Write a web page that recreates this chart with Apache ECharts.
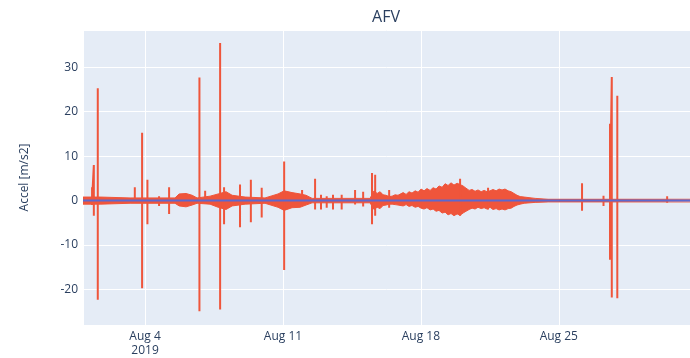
<!DOCTYPE html>
<html>
<head>
<meta charset="utf-8">
<script src="https://cdn.jsdelivr.net/npm/echarts@6/dist/echarts.min.js"></script>
<style>
  html, body { margin: 0; padding: 0; background: #fff; }
  #chart { width: 690px; height: 358px; }
</style>
</head>
<body>
<div id="chart"></div>
<script>
// x positions are fractional days of August 2019 (4.5 = Aug 4, 12:00)
const spikeDay = [1.31, 1.40, 1.60, 3.48, 3.85, 4.12, 4.71, 5.22, 6.76, 7.05, 7.81, 8.01,
  8.82, 9.37, 9.92, 10.43, 11.06, 11.97, 12.63, 12.93, 13.22, 13.54, 13.98, 14.66, 15.07,
  15.52, 15.68, 16.39, 19.99, 21.41, 26.18, 27.27, 27.60, 27.69, 27.97, 30.50];
const spikeHigh = [3, 8, 25.3, 3, 15.3, 4.7, 1, 3, 27.7, 2.2, 35.5, 3,
  3.6, 4.7, 2.9, 1, 8.8, 2.4, 4.9, 1.3, 1, 1.3, 1.3, 2.4, 2,
  6.2, 5.8, 2.4, 4.9, 2.9, 3.9, 1.1, 17.3, 27.8, 23.6, 1];
const spikeLow = [-1, -3.4, -22.3, -0.5, -19.7, -5.3, -1.2, -3, -24.9, -0.5, -24.5, -5.3,
  -6, -4.9, -3.8, -1, -15.6, -1, -2, -2, -1.6, -2, -2, -0.9, -1.3,
  -5.3, -3.4, -1.6, -3.4, -2, -2.3, -1.2, -13.3, -21.8, -22, -0.5];

// envelope of the dense red noise around zero
const envDay = [0.85, 1.72, 3.24, 5.52, 5.73, 6.08, 6.39, 6.64, 7.30, 7.71, 8.11, 8.42,
  9.08, 10.09, 10.75, 11.06, 11.46, 11.87, 12.17, 12.48, 15.42,
  15.62, 15.78, 15.93, 16.08, 16.23, 16.39, 16.54, 16.69, 16.84,
  16.94, 17.10, 17.25, 17.40, 17.55, 17.71, 17.86, 18.01, 18.16, 18.31,
  18.47, 18.62, 18.77, 18.92, 19.08, 19.23, 19.38, 19.53, 19.68, 19.84,
  19.99, 20.14, 20.29, 20.45, 20.60, 20.75, 20.90, 21.06, 21.21, 21.36,
  21.51, 21.66, 21.82, 21.97, 22.12, 22.27, 22.43, 22.58, 22.73, 22.88,
  23.04, 23.24, 23.80, 24.46, 31.66];
const envHigh = [0.8, 0.8, 0.6, 0.6, 1.5, 1.6, 1.2, 0.6, 1.0, 1.5, 2.0, 1.2,
  0.8, 0.6, 1.5, 2.2, 1.8, 1.5, 1.2, 0.5, 0.5,
  2.2, 1.6, 2.0, 1.3, 1.2, 0.9, 1.0, 1.3, 1.2,
  1.5, 1.8, 1.4, 2.0, 1.7, 2.2, 1.9, 2.6, 2.2, 2.7,
  2.3, 2.9, 2.6, 3.3, 3.0, 3.8, 3.4, 4.0, 3.5, 3.9,
  3.6, 3.3, 2.8, 2.3, 2.5, 2.1, 2.4, 2.0, 2.3, 2.0,
  2.2, 2.5, 2.2, 2.6, 2.4, 2.6, 2.2, 2.0, 1.6, 1.2,
  0.9, 0.8, 0.5, 0.3, 0.3];
const envLow = [-0.8, -0.8, -0.6, -0.6, -1.2, -1.4, -1.0, -0.6, -0.8, -1.5, -2.0, -1.2,
  -0.8, -0.6, -1.5, -2.2, -1.6, -1.5, -1.0, -0.5, -0.5,
  -2.0, -1.5, -1.8, -1.1, -1.0, -0.8, -0.8, -0.9, -1.0,
  -1.0, -1.2, -0.9, -1.3, -1.1, -1.5, -1.3, -1.7, -1.9, -1.6,
  -2.1, -1.9, -2.4, -2.2, -2.8, -2.6, -3.2, -2.9, -3.4, -3.0,
  -3.3, -2.8, -2.4, -2.0, -1.7, -1.9, -1.5, -1.8, -1.6, -1.9,
  -1.5, -2.0, -1.8, -2.1, -1.9, -2.1, -1.8, -1.7, -1.3, -1.0,
  -0.8, -0.6, -0.4, -0.3, -0.3];

// second trace, stays at zero
const blueDay = [0.85, 8.0, 15.0, 22.0, 31.66];
const blueVal = [0.05, 0.0, 0.05, 0.0, 0.0];

const months = ['Jan', 'Feb', 'Mar', 'Apr', 'May', 'Jun', 'Jul', 'Aug', 'Sep', 'Oct', 'Nov', 'Dec'];

// axis unit: weeks since Sunday 2019-07-28 (Aug 4 = 1)
const toWeek = (d) => (d + 3) / 7;

const spikeData = [];
spikeDay.forEach((d, i) => {
  const x = toWeek(d);
  spikeData.push([x, 0], [x, spikeHigh[i]], [x, spikeLow[i]], [x, 0]);
});

const red = '#ef553b';
const font = 'Open Sans, sans-serif';

const chart = echarts.init(document.getElementById('chart'));
chart.setOption({
  animation: false,
  title: {
    text: 'AFV',
    left: 381,
    top: 4,
    textAlign: 'center',
    textStyle: { fontFamily: font, fontSize: 16, fontWeight: 'normal', color: '#2a3f5f' }
  },
  grid: {
    left: 83, right: 0, top: 30, bottom: 29,
    show: true, backgroundColor: '#e5ecf6', borderWidth: 0
  },
  xAxis: {
    type: 'value',
    min: toWeek(0.85),
    max: toWeek(31.66),
    splitNumber: 4,
    axisLine: { show: false },
    axisTick: { show: false },
    splitLine: { lineStyle: { color: '#ffffff', width: 1 } },
    axisLabel: {
      color: '#2a3f5f', fontFamily: font, fontSize: 12, margin: 5,
      showMinLabel: false, showMaxLabel: false, lineHeight: 14,
      formatter: (v) => {
        if (Math.abs(v - Math.round(v)) > 1e-6) return '';
        const dt = new Date(Date.UTC(2019, 6, 28) + Math.round(v) * 7 * 86400000);
        const s = months[dt.getUTCMonth()] + ' ' + dt.getUTCDate();
        return Math.round(v) === 1 ? s + '\n' + dt.getUTCFullYear() : s;
      }
    }
  },
  yAxis: {
    type: 'value',
    min: -28,
    max: 38.4,
    splitNumber: 6,
    axisLine: { show: false },
    axisTick: { show: false },
    splitLine: { lineStyle: { color: '#ffffff', width: 1 } },
    axisLabel: {
      color: '#2a3f5f', fontFamily: font, fontSize: 12, margin: 5,
      showMinLabel: false, showMaxLabel: false
    },
    name: 'Accel [m/s2]',
    nameLocation: 'middle',
    nameGap: 52,
    nameTextStyle: { color: '#2a3f5f', fontFamily: font, fontSize: 12 }
  },
  series: [
    {
      type: 'line', silent: true, symbol: 'none',
      data: envDay.map((d, i) => [toWeek(d), envHigh[i]]),
      lineStyle: { color: red, width: 1 },
      areaStyle: { color: red, opacity: 1 }
    },
    {
      type: 'line', silent: true, symbol: 'none',
      data: envDay.map((d, i) => [toWeek(d), envLow[i]]),
      lineStyle: { color: red, width: 1 },
      areaStyle: { color: red, opacity: 1 }
    },
    {
      type: 'line', silent: true, symbol: 'none',
      data: spikeData,
      lineStyle: { color: red, width: 2 }
    },
    {
      type: 'line', silent: true, symbol: 'none',
      data: blueDay.map((d, i) => [toWeek(d), blueVal[i]]),
      lineStyle: { color: '#5b68d0', width: 2 }
    }
  ]
});
</script>
</body>
</html>
